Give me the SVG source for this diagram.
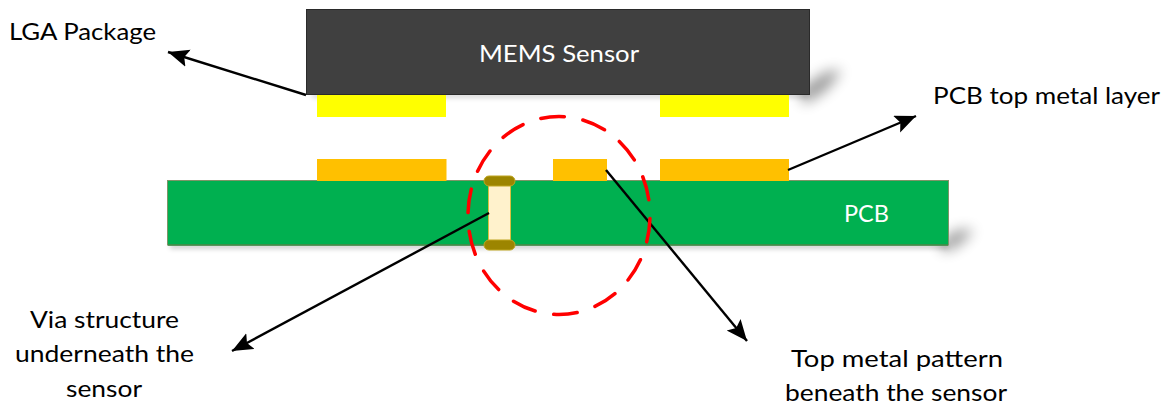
<svg xmlns="http://www.w3.org/2000/svg" width="1174" height="409" viewBox="0 0 1174 409">
<style>
text{font-family:Lato,"Liberation Sans",sans-serif;font-size:24px;fill:#000}
.w{fill:#fff}
.c{stroke:#000;stroke-width:2.4;fill:none;marker-end:url(#a)}
.pad{fill:#ff0}
.metal{fill:#ffc000}
.cap{fill:#9c8500;stroke:#bfa520;stroke-width:1}
</style>
<defs>
<marker id="a" markerUnits="userSpaceOnUse" markerWidth="24" markerHeight="20" refX="21" refY="9" orient="auto"><path d="M0 0L21 9L0 18L4 9Z" fill="#000"/></marker>
<filter id="s" filterUnits="userSpaceOnUse" x="760" y="30" width="260" height="250" color-interpolation-filters="sRGB"><feGaussianBlur stdDeviation="7"/></filter>
<filter id="t" filterUnits="userSpaceOnUse" x="150" y="80" width="820" height="190" color-interpolation-filters="sRGB"><feGaussianBlur stdDeviation="2.500"/></filter>
</defs>
<rect width="1174" height="409" fill="#fff"/>
<g id="shadows" fill="#000">
<path d="M800 90L826 72L842 70L826 90L804 104Z" filter="url(#s)" opacity=".42"/>
<rect x="312" y="93" width="496" height="5" filter="url(#t)" opacity=".16"/>
<path d="M940 242L958 230L974 230L960 244L944 252Z" filter="url(#s)" opacity=".42"/>
<rect x="170" y="243" width="778" height="6" filter="url(#t)" opacity=".18"/>
</g>
<g id="mems-sensor"><rect x="306.500" y="9.500" width="503" height="85" fill="#404040" stroke="#2a2a2a" stroke-width="1"/><text class="w" x="479" y="62" textLength="160" lengthAdjust="spacingAndGlyphs">MEMS Sensor</text></g>
<g id="pad-left"><rect class="pad" x="317" y="95" width="129" height="22"/></g>
<g id="pad-right"><rect class="pad" x="660" y="95" width="129" height="22"/></g>
<g id="pcb"><rect x="167.500" y="180.500" width="781" height="64.500" fill="#00b050" stroke="#7f9468" stroke-width="1"/><path d="M168 245H948" stroke="#3e8a45" stroke-width="1.500"/><text class="w" x="844" y="222" textLength="45" lengthAdjust="spacingAndGlyphs">PCB</text></g>
<g id="metal-left"><rect class="metal" x="317" y="159" width="129.500" height="22"/></g>
<g id="metal-mid"><rect class="metal" x="553" y="159" width="54" height="22"/></g>
<g id="metal-right"><rect class="metal" x="660" y="159" width="129" height="22"/></g>
<g id="via"><rect x="488.500" y="183" width="22" height="63" fill="#fff2cc" stroke="#d9c040" stroke-width="1"/><rect class="cap" x="484" y="176" width="31" height="10" rx="5"/><rect class="cap" x="484" y="240" width="31" height="10" rx="5"/></g>
<g id="connectors">
<path class="c" d="M306 95L168 52"/>
<path class="c" d="M788 170L916 116"/>
<path class="c" d="M489 213L232 351"/>
<path class="c" d="M606 170L747 341"/>
</g>
<g id="highlight"><ellipse cx="559" cy="215.500" rx="91" ry="99" pathLength="602" fill="none" stroke="#f00" stroke-width="3.500" stroke-dasharray="24 19" stroke-dashoffset="-3" stroke-linecap="round"/></g>
<g id="label-lga"><text x="9" y="40" textLength="147" lengthAdjust="spacingAndGlyphs">LGA Package</text></g>
<g id="label-top-metal"><text x="933" y="104" textLength="227" lengthAdjust="spacingAndGlyphs">PCB top metal layer</text></g>
<g id="label-via"><text x="30" y="328" textLength="149" lengthAdjust="spacingAndGlyphs">Via structure</text><text x="15" y="362" textLength="179" lengthAdjust="spacingAndGlyphs">underneath the</text><text x="66" y="397" textLength="76" lengthAdjust="spacingAndGlyphs">sensor</text></g>
<g id="label-pattern"><text x="791" y="367" textLength="212" lengthAdjust="spacingAndGlyphs">Top metal pattern</text><text x="785" y="401" textLength="222" lengthAdjust="spacingAndGlyphs">beneath the sensor</text></g>
</svg>
